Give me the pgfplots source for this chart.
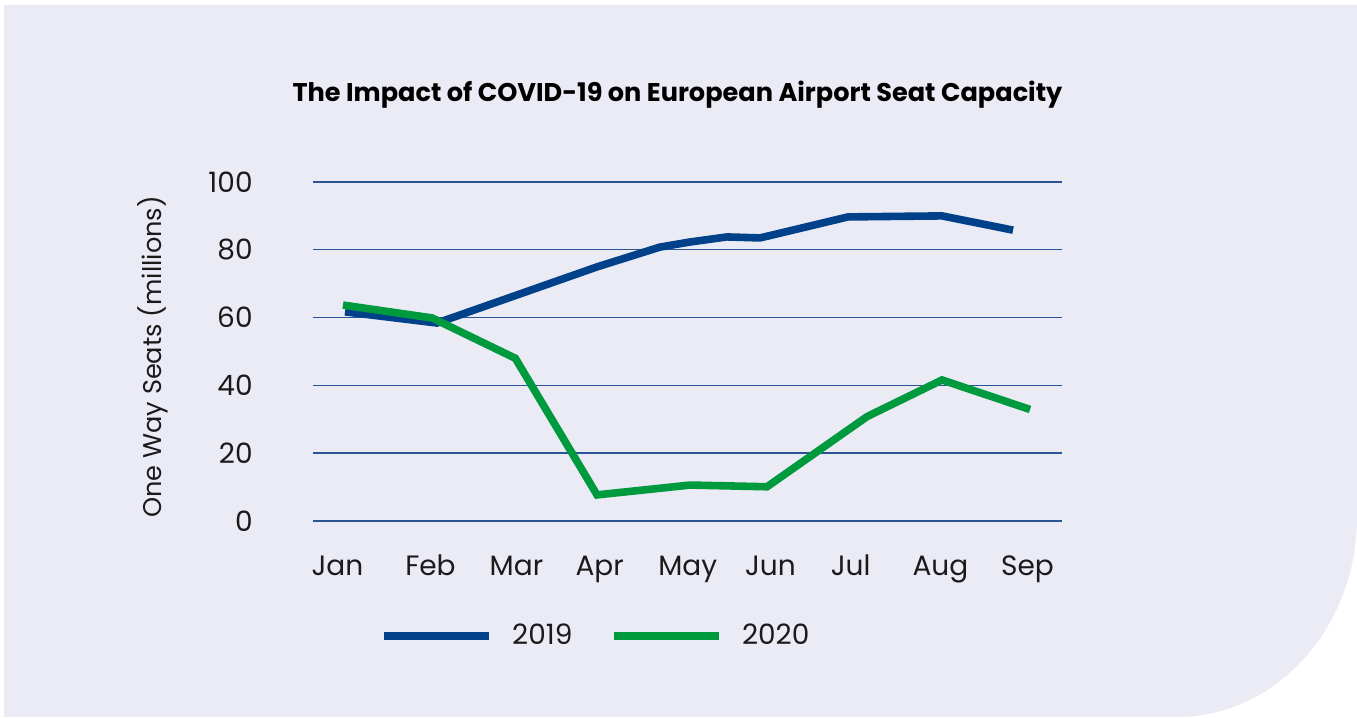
\documentclass[border=0pt]{standalone}
\usepackage{fontspec}
\setmainfont{Poppins}
\usepackage{pgfplots}
\pgfplotsset{compat=1.18}
\definecolor{panel}{HTML}{EBEBF5}
\definecolor{blue19}{HTML}{004189}
\definecolor{green20}{HTML}{009A3E}
\definecolor{gridc}{HTML}{2A5595}
\definecolor{txt}{HTML}{1A1A1A}
\begin{document}
\begin{tikzpicture}[x=1pt,y=1pt]
\useasboundingbox (0,0) rectangle (678.5,359);
\fill[panel] (2,356.5) -- (678.5,356.5) -- (678.5,100.5)
  arc[start angle=0,end angle=-90,x radius=90,y radius=100] -- (2,0.5) -- cycle;
\begin{axis}[
  at={(156.5pt,98.5pt)}, anchor=south west,
  scale only axis, width=374.5pt, height=169.5pt,
  xmin=-0.284, xmax=8.4, ymin=0, ymax=100,
  axis line style={draw=none},
  ymajorgrids, grid style={gridc, line width=0.7pt},
  ytick={0,20,...,100},
  xtick={0,1.078,2.075,3.04,4.06,5.02,5.95,6.99,8},
  xticklabels={Jan,Feb,Mar,Apr,May,Jun,Jul,Aug,Sep},
  major tick length=0pt,
  every tick label/.append style={font=\fontsize{14}{16}\selectfont, text=txt},
  yticklabel style={anchor=east, inner sep=0pt, xshift=-30pt},
  xticklabel style={anchor=base, inner sep=0pt, yshift=-27.5pt},
  /pgf/number format/assume math mode=true,
  ylabel={One Way Seats (millions)},
  ylabel style={at={(axis description cs:-0.2136,0.484)}, anchor=center, xshift=0pt, yshift=0pt, font=\fontsize{12.8}{16}\selectfont, text=txt},
  title={\bfseries The Impact of COVID-19 on European Airport Seat Capacity},
  title style={at={(axis description cs:0.4866,1.2213)}, anchor=center, yshift=0pt, font=\fontsize{12.8}{16}\selectfont, text=black},
  legend columns=2,
  legend style={at={(axis description cs:0.3765,-0.339)}, anchor=center, draw=none, fill=none,
    font=\fontsize{14}{16}\selectfont, text=txt,
    nodes={inner sep=0pt},
    /tikz/every odd column/.style={column sep=9.5pt},
    /tikz/every even column/.style={column sep=19pt}},
  legend image code/.code={\draw[#1] (0pt,0pt) -- (52.5pt,0pt);},
]
\addplot[blue19, line width=3.8pt, line join=miter] coordinates {
 (0.087,61.7) (1.154,58.4) (2.062,66.5) (3.014,75.0) (3.739,80.8) (4.087,82.3) (4.516,83.8) (4.899,83.5) (5.919,89.7) (7.009,90.0) (7.832,85.8)};
\addlegendentry{2019}
\addplot[green20, line width=3.8pt, line join=miter] coordinates {
 (0.064,63.7) (1.096,59.9) (2.062,48.0) (3.009,7.7) (4.087,10.6) (4.98,10.1) (6.14,30.8) (7.009,41.6) (8.029,32.9)};
\addlegendentry{2020}
\end{axis}
\end{tikzpicture}
\end{document}
